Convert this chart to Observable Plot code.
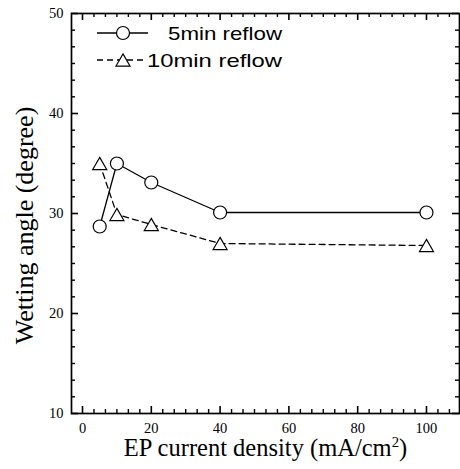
<!DOCTYPE html>
<html><head><meta charset="utf-8">
<script src="https://cdn.jsdelivr.net/npm/d3@7"></script>
<script src="https://cdn.jsdelivr.net/npm/@observablehq/plot@0.6"></script>
<style>body{margin:0;background:#fff}#wrap{position:relative;width:460px;height:469px;overflow:hidden}</style>
</head><body><div id="wrap"></div>
<script>
// ---- data ----
const currentDensity = [5, 10, 20, 40, 100];          // mA/cm^2
const angle5min  = [28.7, 35.0, 33.1, 30.1, 30.1];     // degree
const angle10min = [35.0, 29.9, 28.9, 27.0, 26.8];     // degree
const seriesNames = ["5min reflow", "10min reflow"];
const xMajorTicks = [0, 20, 40, 60, 80, 100];
const yMajorTicks = [10, 20, 30, 40, 50];
const xLabel = "EP current density (mA/cm²)";
const yLabel = "Wetting angle (degree)";

const W = 460, H = 469;
const M = {left: 71, top: 13, right: 1, bottom: 56};
const FW = W - M.left - M.right, FH = H - M.top - M.bottom;
const xDomain = [-3.2, 109.6], yDomain = [10, 50];
const near = (a, b) => Math.abs(a - b) < 1e-6;
const xMinor = d3.range(-60, 61).map(k => k * 20 / 6).filter(v => v > xDomain[0] && v < xDomain[1] && !xMajorTicks.some(t => near(t, v)));
const yMinor = d3.range(0, 25).map(k => 10 + k * 10 / 6).filter(v => v > yDomain[0] && v < yDomain[1] && !yMajorTicks.some(t => near(t, v)));

const rows5 = currentDensity.map((x, i) => ({x, y: angle5min[i]}));
const rows10 = currentDensity.map((x, i) => ({x, y: angle10min[i]}));

const serif = "'Liberation Serif','Times New Roman',serif";
const MAJ = 7, MIN = 4;
// inward ticks on all four sides (pixel insets from the frame)
const xTicks = (vals, len, sw) => [
  Plot.tickX(vals, {x: d => d, insetTop: FH - len, stroke: "#000", strokeWidth: sw}),
  Plot.tickX(vals, {x: d => d, insetBottom: FH - len, stroke: "#000", strokeWidth: sw})
];
const yTicks = (vals, len, sw) => [
  Plot.tickY(vals, {y: d => d, insetRight: FW - len, stroke: "#000", strokeWidth: sw}),
  Plot.tickY(vals, {y: d => d, insetLeft: FW - len, stroke: "#000", strokeWidth: sw})
];

const plot = Plot.plot({
  width: W, height: H,
  marginLeft: M.left, marginTop: M.top, marginRight: M.right, marginBottom: M.bottom,
  style: {fontFamily: serif, fontSize: "14.5px", color: "#000", background: "#fff", overflow: "visible"},
  x: {domain: xDomain},
  y: {domain: yDomain},
  marks: [
    // tick labels
    Plot.axisX({anchor: "bottom", ticks: xMajorTicks, tickSize: 0, tickPadding: 9, label: null}),
    Plot.axisY({anchor: "left", ticks: yMajorTicks, tickSize: 0, tickPadding: 8, label: null}),
    ...xTicks(xMajorTicks, MAJ, 1.6),
    ...yTicks(yMajorTicks, MAJ, 1.6),
    ...xTicks(xMinor, MIN, 1.4),
    ...yTicks(yMinor, MIN, 1.4),
    Plot.frame({stroke: "#000", strokeWidth: 1.7}),
    // axis titles
    Plot.text([xLabel], {frameAnchor: "bottom", textAnchor: "middle", dy: 42.5, fontSize: 24.5, text: d => d, fill: "#000"}),
    Plot.text([yLabel], {frameAnchor: "left", textAnchor: "middle", dx: -47, dy: 12, rotate: -90, fontSize: 26, text: d => d, fill: "#000"}),
    // series
    Plot.line(rows5, {x: "x", y: "y", stroke: "#000", strokeWidth: 1.3}),
    Plot.line(rows10, {x: "x", y: "y", stroke: "#000", strokeWidth: 1.3, strokeDasharray: "6,4"}),
    Plot.dot(rows5, {x: "x", y: "y", symbol: "circle", r: 6.5, fill: "#fff", stroke: "#000", strokeWidth: 1.2}),
    Plot.dot(rows10, {x: "x", y: "y", symbol: "triangle", r: 5.2, dy: 2, fill: "#fff", stroke: "#000", strokeWidth: 1.2})
  ]
});

// superscript for cm²
d3.select(plot).selectAll("text").each(function () {
  const t = d3.select(this);
  if (t.text() === xLabel) {
    t.text(null);
    t.append("tspan").text("EP current density (mA/cm");
    t.append("tspan").attr("dy", "-0.6em").attr("font-size", "0.6em").text("2");
    t.append("tspan").attr("dy", "0.36em").text(")");
  }
});

const wrap = document.getElementById("wrap");
wrap.appendChild(plot);

// legend overlay (top-left inside the frame)
const leg = d3.select(wrap).append("svg")
  .attr("width", W).attr("height", H)
  .style("position", "absolute").style("left", 0).style("top", 0);
const legRows = [
  {name: seriesNames[0], y: 33, dash: null, x2: 148, sym: d3.symbolCircle, size: Math.PI * 6.5 * 6.5, dy: 0, len: 114},
  {name: seriesNames[1], y: 60, dash: "6,4", x2: 143, sym: d3.symbolTriangle, size: Math.PI * 5.2 * 5.2, dy: 2, len: 135}
];
legRows.forEach(r => {
  leg.append("line").attr("x1", 97).attr("x2", r.x2).attr("y1", r.y).attr("y2", r.y)
    .attr("stroke", "#000").attr("stroke-width", 1.3).attr("stroke-dasharray", r.dash);
  leg.append("path").attr("d", d3.symbol(r.sym, r.size)()).attr("transform", `translate(123,${r.y + r.dy})`)
    .attr("fill", "#fff").attr("stroke", "#000").attr("stroke-width", 1.2);
  leg.append("text").attr("x", 282).attr("y", r.y + 7).attr("text-anchor", "end")
    .attr("font-family", "'Liberation Sans',Arial,sans-serif").attr("font-size", 19)
    .attr("textLength", r.len).attr("lengthAdjust", "spacingAndGlyphs")
    .text(r.name);
});
</script></body></html>
